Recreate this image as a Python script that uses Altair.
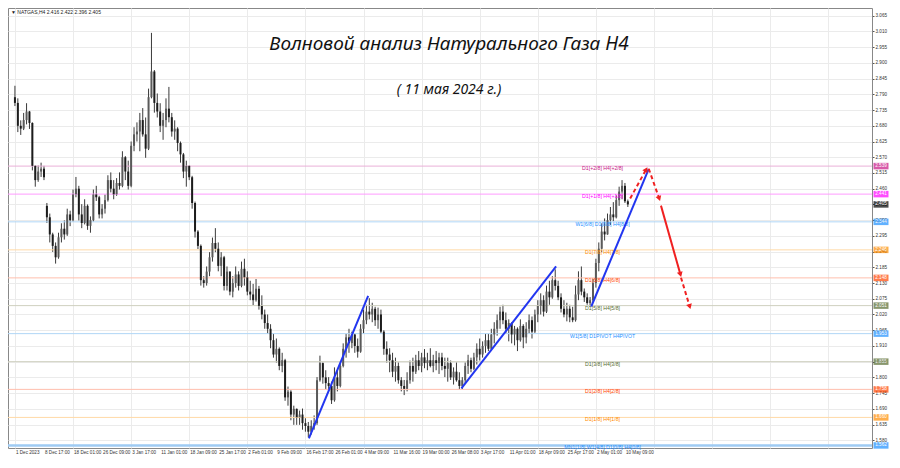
import altair as alt
import pandas as pd

# ---------------- data ----------------
bar_open = [2.78, 2.76, 2.68, 2.67, 2.70, 2.73, 2.69, 2.54, 2.49, 2.52,
            2.53, 2.40, 2.36, 2.30, 2.26, 2.22, 2.29, 2.32, 2.30, 2.37,
            2.35, 2.44, 2.46, 2.37, 2.34, 2.40, 2.33, 2.35, 2.44, 2.43,
            2.37, 2.39, 2.42, 2.49, 2.46, 2.44, 2.48, 2.47, 2.57, 2.52,
            2.47, 2.61, 2.65, 2.66, 2.70, 2.65, 2.60, 2.78, 2.87, 2.76,
            2.73, 2.68, 2.70, 2.74, 2.71, 2.66, 2.67, 2.62, 2.58, 2.52,
            2.54, 2.50, 2.41, 2.31, 2.26, 2.14, 2.13, 2.17, 2.22, 2.27,
            2.25, 2.19, 2.22, 2.12, 2.17, 2.10, 2.13, 2.16, 2.12, 2.18,
            2.15, 2.10, 2.09, 2.07, 2.11, 2.05, 2.02, 1.99, 1.97, 1.93,
            1.88, 1.90, 1.84, 1.86, 1.73, 1.75, 1.67, 1.69, 1.66, 1.67,
            1.64, 1.63, 1.61, 1.63, 1.64, 1.79, 1.85, 1.80, 1.78, 1.77,
            1.72, 1.80, 1.77, 1.84, 1.90, 1.94, 1.92, 1.95, 1.91, 1.89,
            1.97, 2.00, 2.03, 2.02, 2.04, 2.00, 2.02, 1.96, 1.90, 1.88,
            1.86, 1.82, 1.84, 1.79, 1.77, 1.76, 1.79, 1.84, 1.82, 1.86,
            1.84, 1.87, 1.85, 1.86, 1.84, 1.86, 1.85, 1.87, 1.84, 1.83,
            1.85, 1.80, 1.82, 1.79, 1.77, 1.79, 1.84, 1.86, 1.83, 1.87,
            1.90, 1.88, 1.91, 1.93, 1.90, 1.95, 1.97, 2.00, 2.03, 2.00,
            1.97, 1.99, 1.95, 1.97, 1.93, 1.98, 1.94, 1.97, 2.00, 1.96,
            2.02, 2.05, 2.07, 2.03, 2.10, 2.08, 2.14, 2.12, 2.08, 2.04,
            2.02, 2.04, 2.01, 2.00, 2.09, 2.14, 2.10, 2.08, 2.06, 2.07,
            2.13, 2.20, 2.25, 2.31, 2.30, 2.35, 2.37, 2.36, 2.42, 2.45,
            2.47, 2.416]
bar_high = [2.820, 2.776, 2.699, 2.725, 2.759, 2.732, 2.692, 2.541, 2.541, 2.551,
            2.540, 2.410, 2.373, 2.306, 2.272, 2.306, 2.339, 2.349, 2.390, 2.383,
            2.457, 2.501, 2.470, 2.406, 2.423, 2.405, 2.363, 2.457, 2.470, 2.435,
            2.406, 2.440, 2.507, 2.517, 2.490, 2.497, 2.517, 2.591, 2.574, 2.558,
            2.625, 2.675, 2.692, 2.725, 2.742, 2.709, 2.810, 3.005, 2.875, 2.793,
            2.759, 2.725, 2.776, 2.816, 2.725, 2.699, 2.675, 2.625, 2.585, 2.558,
            2.541, 2.505, 2.415, 2.315, 2.265, 2.154, 2.188, 2.238, 2.289, 2.322,
            2.272, 2.238, 2.225, 2.188, 2.171, 2.154, 2.188, 2.171, 2.205, 2.215,
            2.171, 2.138, 2.127, 2.144, 2.120, 2.087, 2.037, 2.020, 1.986, 1.953,
            1.936, 1.905, 1.886, 1.865, 1.768, 1.755, 1.701, 1.691, 1.684, 1.691,
            1.657, 1.644, 1.650, 1.667, 1.801, 1.876, 1.852, 1.825, 1.801, 1.785,
            1.835, 1.825, 1.852, 1.919, 1.953, 1.970, 1.960, 1.953, 1.936, 1.986,
            2.037, 2.054, 2.077, 2.061, 2.047, 2.044, 2.037, 1.965, 1.926, 1.902,
            1.886, 1.869, 1.852, 1.801, 1.791, 1.818, 1.859, 1.869, 1.879, 1.892,
            1.886, 1.899, 1.886, 1.902, 1.879, 1.892, 1.886, 1.886, 1.869, 1.869,
            1.859, 1.835, 1.852, 1.818, 1.801, 1.852, 1.879, 1.869, 1.886, 1.919,
            1.936, 1.926, 1.953, 1.953, 1.970, 1.993, 2.020, 2.047, 2.054, 2.027,
            2.003, 1.993, 1.980, 1.975, 2.003, 1.986, 1.993, 2.020, 2.013, 2.037,
            2.070, 2.094, 2.087, 2.121, 2.138, 2.154, 2.178, 2.138, 2.094, 2.070,
            2.061, 2.054, 2.047, 2.121, 2.171, 2.188, 2.111, 2.094, 2.081, 2.144,
            2.215, 2.272, 2.339, 2.356, 2.373, 2.396, 2.413, 2.437, 2.467, 2.490,
            2.480, 2.422]
bar_low = [2.749, 2.658, 2.648, 2.665, 2.685, 2.669, 2.524, 2.467, 2.484, 2.501,
           2.490, 2.340, 2.272, 2.239, 2.198, 2.215, 2.272, 2.282, 2.295, 2.329,
           2.345, 2.430, 2.349, 2.322, 2.335, 2.316, 2.306, 2.345, 2.417, 2.356,
           2.356, 2.373, 2.415, 2.447, 2.423, 2.435, 2.457, 2.465, 2.490, 2.457,
           2.465, 2.591, 2.625, 2.591, 2.642, 2.568, 2.595, 2.776, 2.726, 2.709,
           2.658, 2.631, 2.675, 2.692, 2.642, 2.631, 2.591, 2.551, 2.497, 2.467,
           2.490, 2.390, 2.289, 2.249, 2.121, 2.114, 2.121, 2.154, 2.205, 2.238,
           2.171, 2.154, 2.104, 2.104, 2.087, 2.080, 2.114, 2.104, 2.115, 2.121,
           2.087, 2.070, 2.053, 2.065, 2.037, 2.003, 1.970, 1.953, 1.902, 1.869,
           1.852, 1.825, 1.818, 1.718, 1.701, 1.650, 1.634, 1.634, 1.634, 1.617,
           1.610, 1.590, 1.600, 1.617, 1.634, 1.785, 1.778, 1.758, 1.751, 1.707,
           1.715, 1.751, 1.765, 1.835, 1.869, 1.886, 1.902, 1.886, 1.869, 1.886,
           1.953, 1.986, 2.003, 1.993, 1.980, 1.970, 1.953, 1.879, 1.852, 1.818,
           1.801, 1.785, 1.778, 1.751, 1.738, 1.751, 1.778, 1.785, 1.812, 1.825,
           1.818, 1.832, 1.825, 1.835, 1.818, 1.825, 1.812, 1.825, 1.801, 1.785,
           1.791, 1.775, 1.785, 1.758, 1.758, 1.778, 1.812, 1.818, 1.825, 1.845,
           1.859, 1.869, 1.886, 1.892, 1.895, 1.919, 1.946, 1.970, 1.986, 1.953,
           1.926, 1.919, 1.912, 1.892, 1.925, 1.902, 1.919, 1.953, 1.936, 1.955,
           1.993, 2.020, 2.013, 2.025, 2.054, 2.075, 2.104, 2.070, 2.027, 2.010,
           1.996, 1.993, 1.993, 1.995, 2.070, 2.087, 2.064, 2.054, 2.047, 2.064,
           2.114, 2.171, 2.238, 2.279, 2.299, 2.333, 2.346, 2.356, 2.400, 2.423,
           2.410, 2.396]
bar_close = [2.76, 2.68, 2.67, 2.70, 2.73, 2.69, 2.54, 2.49, 2.52, 2.53,
             2.50, 2.36, 2.30, 2.26, 2.22, 2.29, 2.32, 2.30, 2.37, 2.35,
             2.44, 2.46, 2.37, 2.34, 2.40, 2.33, 2.35, 2.44, 2.43, 2.37,
             2.39, 2.42, 2.49, 2.46, 2.44, 2.48, 2.47, 2.57, 2.52, 2.47,
             2.61, 2.65, 2.66, 2.70, 2.65, 2.60, 2.78, 2.87, 2.76, 2.73,
             2.68, 2.70, 2.74, 2.71, 2.66, 2.67, 2.62, 2.58, 2.52, 2.54,
             2.50, 2.41, 2.31, 2.26, 2.14, 2.13, 2.17, 2.22, 2.27, 2.25,
             2.19, 2.22, 2.12, 2.17, 2.10, 2.13, 2.16, 2.12, 2.18, 2.15,
             2.10, 2.09, 2.07, 2.11, 2.05, 2.02, 1.99, 1.97, 1.93, 1.88,
             1.90, 1.84, 1.86, 1.73, 1.75, 1.67, 1.69, 1.66, 1.67, 1.64,
             1.63, 1.61, 1.63, 1.64, 1.79, 1.85, 1.80, 1.78, 1.77, 1.72,
             1.80, 1.77, 1.84, 1.90, 1.94, 1.92, 1.95, 1.91, 1.89, 1.97,
             2.00, 2.03, 2.02, 2.04, 2.00, 2.02, 1.96, 1.90, 1.88, 1.86,
             1.82, 1.84, 1.79, 1.77, 1.76, 1.79, 1.84, 1.82, 1.86, 1.84,
             1.87, 1.85, 1.86, 1.84, 1.86, 1.85, 1.87, 1.84, 1.83, 1.85,
             1.80, 1.82, 1.79, 1.77, 1.79, 1.84, 1.86, 1.83, 1.87, 1.90,
             1.88, 1.91, 1.93, 1.90, 1.95, 1.97, 2.00, 2.03, 2.00, 1.97,
             1.99, 1.95, 1.97, 1.93, 1.98, 1.94, 1.97, 2.00, 1.96, 2.02,
             2.05, 2.07, 2.03, 2.10, 2.08, 2.14, 2.12, 2.08, 2.04, 2.02,
             2.04, 2.01, 2.00, 2.09, 2.14, 2.10, 2.08, 2.06, 2.07, 2.13,
             2.20, 2.25, 2.31, 2.30, 2.35, 2.37, 2.36, 2.42, 2.45, 2.47,
             2.416, 2.405]

time_labels = ["1 Dec 2023", "8 Dec 17:00", "18 Dec 01:00", "26 Dec 09:00",
               "3 Jan 17:00", "11 Jan 01:00", "18 Jan 09:00", "25 Jan 17:00",
               "2 Feb 01:00", "9 Feb 09:00", "16 Feb 17:00", "26 Feb 01:00",
               "4 Mar 09:00", "11 Mar 16:00", "19 Mar 00:00", "26 Mar 08:00",
               "3 Apr 17:00", "11 Apr 01:00", "18 Apr 09:00", "25 Apr 17:00",
               "2 May 01:00", "10 May 09:00"]
time_label_bars = [0, 10, 20, 30, 40, 50, 60, 70, 80, 90, 100,
                   110, 120, 130, 140, 150, 160, 170, 180, 190, 200, 210]

price_ticks = [3.065, 3.010, 2.955, 2.900, 2.845, 2.790, 2.735, 2.680, 2.625,
               2.570, 2.515, 2.460, 2.405, 2.350, 2.295, 2.240, 2.185, 2.130,
               2.075, 2.020, 1.965, 1.910, 1.855, 1.800, 1.745, 1.690, 1.635,
               1.580]

level_prices = [2.539, 2.441, 2.344, 2.246, 2.148, 2.051, 1.953, 1.855, 1.758, 1.660, 1.562]
level_names = ["D1[+2/8] H4[+2/8]", "D1[+1/8] H4[+1/8]", "W1[6/8] D1[8/8] H4[8/8]",
               "D1[7/8] H4[7/8]", "D1[6/8] H4[6/8]", "D1[5/8] H4[5/8]",
               "W1[5/8] D1PIVOT H4PIVOT", "D1[3/8] H4[3/8]", "D1[2/8] H4[2/8]",
               "D1[1/8] H4[1/8]", "MN1[1/8] W1[4/8] D1[0/8] H4[0/8]"]
level_line_colors = ["#eab0d8", "#ff9cff", "#b0d6f6", "#ffd9a6", "#ffbfae", "#cfd0bf",
                     "#b0d6f6", "#cfd0bf", "#ffbfae", "#ffd9a6", "#9fcbf3"]
level_badge_colors = ["#c71585", "#ff00ff", "#1e90ff", "#ff8c00", "#ff4500", "#556b2f",
                      "#1e90ff", "#556b2f", "#ff4500", "#ff8c00", "#1e90ff"]

last_price = 2.405

# trend lines (bar index, price)
blue_seg = [1, 1, 2, 2, 3, 3]
blue_k = [101.2, 121.6, 153.7, 186.3, 198.4, 218.2]
blue_p = [1.5865, 2.0848, 1.7612, 2.188, 2.0479, 2.5297]

red_dash_seg = [1, 1, 2, 2, 3, 3]
red_dash_k = [211.8, 217.3, 218.2, 221.8, 229.3, 232.3]
red_dash_p = [2.4256, 2.5274, 2.5297, 2.4256, 2.1487, 2.0479]
red_solid_k = [222.4, 229.1]
red_solid_p = [2.4007, 2.1601]

arrow_k = [217.3, 221.8, 229.1, 232.3]
arrow_p = [2.5274, 2.4256, 2.1601, 2.0479]
arrow_angles = [29, 161, 164, 163]

# ---------------- layout ----------------
W, H = 864, 440
xs = alt.Scale(domain=[-0.667, 293.33], nice=False, zero=False)
ys = alt.Scale(domain=[1.553, 3.092], nice=False, zero=False)

x_axis = alt.Axis(values=list(range(0, 294, 5)), labels=False, grid=True,
                  gridColor="#ebebeb", gridWidth=1, ticks=False, domain=False, title=None)
y_axis = alt.Axis(orient="right", values=price_ticks, format=".3f", grid=True,
                  gridColor="#ebebeb", gridWidth=1, tickSize=2, tickColor="#555",
                  domain=False, labelFontSize=4.6, labelColor="#333",
                  labelFont="Liberation Sans", labelPadding=1, title=None,
                  labelOverlap=False, labelBound=False, labelFlush=False)


def X(field):
    return alt.X(field, scale=xs, axis=x_axis)


def Y(field):
    return alt.Y(field, scale=ys, axis=y_axis)


bars = pd.DataFrame({"k": list(range(len(bar_close))), "open": bar_open,
                     "high": bar_high, "low": bar_low, "close": bar_close})
bars["dir"] = ["up" if c >= o else "down" for o, c in zip(bar_open, bar_close)]

wicks = alt.Chart(bars).mark_rule(color="#3a3a3a", strokeWidth=1).encode(
    x=X("k:Q"), y=Y("low:Q"), y2="high:Q")
bodies = alt.Chart(bars).mark_bar(size=2).encode(
    x=X("k:Q"), y=Y("open:Q"), y2="close:Q",
    color=alt.Color("dir:N", scale=alt.Scale(domain=["up", "down"], range=["#5a5a5a", "#1c1c1c"]),
                    legend=None))

tl_df = pd.DataFrame({"k": time_label_bars, "t": time_labels})
time_text = alt.Chart(tl_df).mark_text(fontSize=4.6, font="Liberation Sans", color="#333",
                                       align="left", baseline="middle", dx=1).encode(
    x=X("k:Q"), y=alt.value(H + 5), text="t:N")

levels = pd.DataFrame({"price": level_prices, "name": level_names,
                       "lc": level_line_colors, "bc": level_badge_colors})
level_rules = alt.Chart(levels).mark_rule(strokeWidth=1).encode(
    y=Y("price:Q"), color=alt.Color("lc:N", scale=None))
bottom_rule = alt.Chart(levels.tail(1)).mark_rule(strokeWidth=2.5, color="#9fcbf3").encode(
    y=Y("price:Q"))
level_text = alt.Chart(levels).mark_text(fontSize=5.2, font="Liberation Sans", dy=2,
                                         align="center").encode(
    x=alt.datum(202.3, scale=xs), y=Y("price:Q"), text="name:N",
    color=alt.Color("bc:N", scale=None))

badges_df = pd.DataFrame({"price": level_prices + [last_price],
                          "bc": level_badge_colors + ["#000000"]})
badges = alt.Chart(badges_df).mark_tick(orient="horizontal", size=15, thickness=6.5).encode(
    x=alt.value(W + 9), y=Y("price:Q"), color=alt.Color("bc:N", scale=None))
badge_text = alt.Chart(badges_df).mark_text(fontSize=4.6, font="Liberation Sans", color="white",
                                            align="center", baseline="middle").encode(
    x=alt.value(W + 9), y=Y("price:Q"), text=alt.Text("price:Q", format=".3f"))

blue_df = pd.DataFrame({"seg": blue_seg, "k": blue_k, "p": blue_p})
blue_lines = alt.Chart(blue_df).mark_line(color="#2236f0", strokeWidth=2).encode(
    x=X("k:Q"), y=Y("p:Q"), detail="seg:N")

red_dash_df = pd.DataFrame({"seg": red_dash_seg, "k": red_dash_k, "p": red_dash_p})
red_dash = alt.Chart(red_dash_df).mark_line(color="#f02020", strokeWidth=2,
                                            strokeDash=[4, 3]).encode(
    x=X("k:Q"), y=Y("p:Q"), detail="seg:N")
red_solid_df = pd.DataFrame({"k": red_solid_k, "p": red_solid_p})
red_solid = alt.Chart(red_solid_df).mark_line(color="#f02020", strokeWidth=2).encode(
    x=X("k:Q"), y=Y("p:Q"))

arrow_layers = []
for ak, ap, ang in zip(arrow_k, arrow_p, arrow_angles):
    adf = pd.DataFrame({"k": [ak], "p": [ap]})
    arrow_layers.append(
        alt.Chart(adf).mark_point(shape="triangle-up", filled=True, size=35, opacity=1,
                                  color="#f02020", angle=ang).encode(
            x=X("k:Q"), y=Y("p:Q")))

title_df = pd.DataFrame({"t": ["Волновой анализ Натурального Газа H4"]})
title = alt.Chart(title_df).mark_text(fontSize=19, font="Noto Sans", fontStyle="italic",
                                      color="#111", align="center", baseline="middle").encode(
    x=alt.value(441), y=alt.value(36), text="t:N")
sub_df = pd.DataFrame({"t": ["( 11 мая 2024 г.)"]})
subtitle = alt.Chart(sub_df).mark_text(fontSize=14, font="Noto Sans", fontStyle="italic",
                                       color="#111", align="center", baseline="middle").encode(
    x=alt.value(441), y=alt.value(82), text="t:N")
head_df = pd.DataFrame({"t": ["▼ NATGAS,H4 %.3f %.3f %.3f %.3f" % (bar_open[-1], bar_high[-1],
                                                                  bar_low[-1], bar_close[-1])]})
header = alt.Chart(head_df).mark_text(fontSize=5, font="Liberation Sans", color="#222",
                                      align="left", baseline="middle").encode(
    x=alt.value(3), y=alt.value(4), text="t:N")

chart = alt.layer(
    wicks, level_rules, bottom_rule, bodies, level_text, blue_lines, red_dash, red_solid,
    *arrow_layers, badges, badge_text, time_text, title, subtitle, header
).properties(
    width=W, height=H,
    autosize=alt.AutoSizeParams(type="none"),
    padding={"left": 0, "top": 0, "right": 20, "bottom": 10},
    background="white"
).configure_view(stroke="#888", strokeWidth=1
).configure_axis(labelOverlap=False)

chart.save("out.html", embed_options={"renderer": "svg", "actions": False})
